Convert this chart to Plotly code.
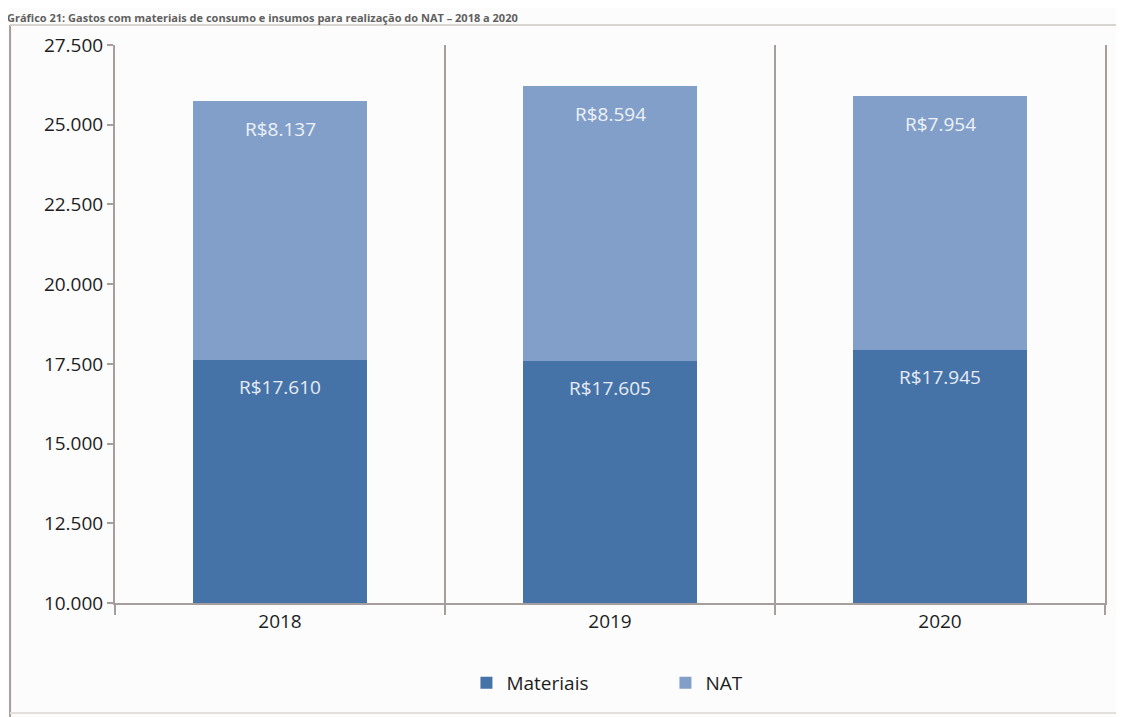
import plotly.graph_objects as go

anos = ["2018", "2019", "2020"]
materiais = [17610, 17605, 17945]
nat = [8137, 8594, 7954]
rotulos_materiais = ["R$17.610", "R$17.605", "R$17.945"]
rotulos_nat = ["R$8.137", "R$8.594", "R$7.954"]
y_ticks = [10000, 12500, 15000, 17500, 20000, 22500, 25000, 27500]
y_tick_text = ["10.000", "12.500", "15.000", "17.500", "20.000", "22.500", "25.000", "27.500"]
titulo = "Gráfico 21: Gastos com materiais de consumo e insumos para realização do NAT – 2018 a 2020"

cor_materiais = "#4673a7"
cor_nat = "#819fc8"
cor_linha = "#a69e9c"
fonte = "Open Sans"

fig = go.Figure()
fig.add_trace(go.Bar(x=anos, y=materiais, name="Materiais", marker_color=cor_materiais,
                     marker_line_width=0))
fig.add_trace(go.Bar(x=anos, y=nat, name="NAT", marker_color=cor_nat, marker_line_width=0))

# rótulos de dados, logo abaixo do topo de cada segmento (x = índice da categoria)
for i, ano in enumerate(anos):
    fig.add_annotation(x=i, y=materiais[i], text=rotulos_materiais[i], showarrow=False,
                       yshift=-27, font=dict(family=fonte, size=19, color="#e6ecf5"))
    fig.add_annotation(x=i, y=materiais[i] + nat[i], text=rotulos_nat[i], showarrow=False,
                       yshift=-28, font=dict(family=fonte, size=19, color="#eef2f8"))

# título no topo da imagem
fig.add_annotation(xref="paper", yref="paper", x=-0.11, y=1.064, xanchor="left", yanchor="top",
                   text="<b>" + titulo + "</b>", showarrow=False, borderpad=0,
                   font=dict(family=fonte, size=11, color="#5f5f5f"))

# moldura externa
fig.add_shape(type="line", xref="paper", yref="paper", x0=-0.106, x1=-0.106, y0=-0.3, y1=1.036,
              line=dict(color=cor_linha, width=2))
fig.add_shape(type="line", xref="paper", yref="paper", x0=-0.106, x1=1.1, y0=1.036, y1=1.036,
              line=dict(color="#d8d4d2", width=2))
fig.add_shape(type="line", xref="paper", yref="paper", x0=-0.106, x1=1.1, y0=-0.197, y1=-0.197,
              line=dict(color="#e2dfde", width=2))

# a página desloca a figura 8 px (margem do body), por isso 1116x709
fig.update_layout(
    barmode="stack",
    bargap=0.47,
    width=1116,
    height=709,
    margin=dict(l=107, r=19, t=37, b=114),
    paper_bgcolor="#fcfcfc",
    plot_bgcolor="#fcfcfc",
    font=dict(family=fonte, size=19, color="#1e1e1e"),
    showlegend=True,
    legend=dict(orientation="h", x=0.556, xanchor="center", y=-0.143, yanchor="middle",
                traceorder="normal",
                font=dict(family=fonte, size=19, color="#1e1e1e"),
                entrywidth=154, entrywidthmode="pixels", itemwidth=30,
                bgcolor="rgba(0,0,0,0)"),
)

fig.update_xaxes(type="category", range=[-0.5, 2.5], tickson="boundaries", showgrid=True,
                 gridcolor=cor_linha, gridwidth=2, showline=True, linecolor=cor_linha, linewidth=2,
                 ticks="outside", ticklen=10, tickcolor=cor_linha, tickwidth=2, tickangle=0)
fig.update_yaxes(range=[10000, 27500], tickvals=y_ticks, ticktext=y_tick_text, showgrid=False,
                 showline=True, linecolor=cor_linha, linewidth=2, mirror=True,
                 ticks="outside", ticklen=6, tickcolor=cor_linha, tickwidth=2, zeroline=False)

fig.write_html("out.html")
